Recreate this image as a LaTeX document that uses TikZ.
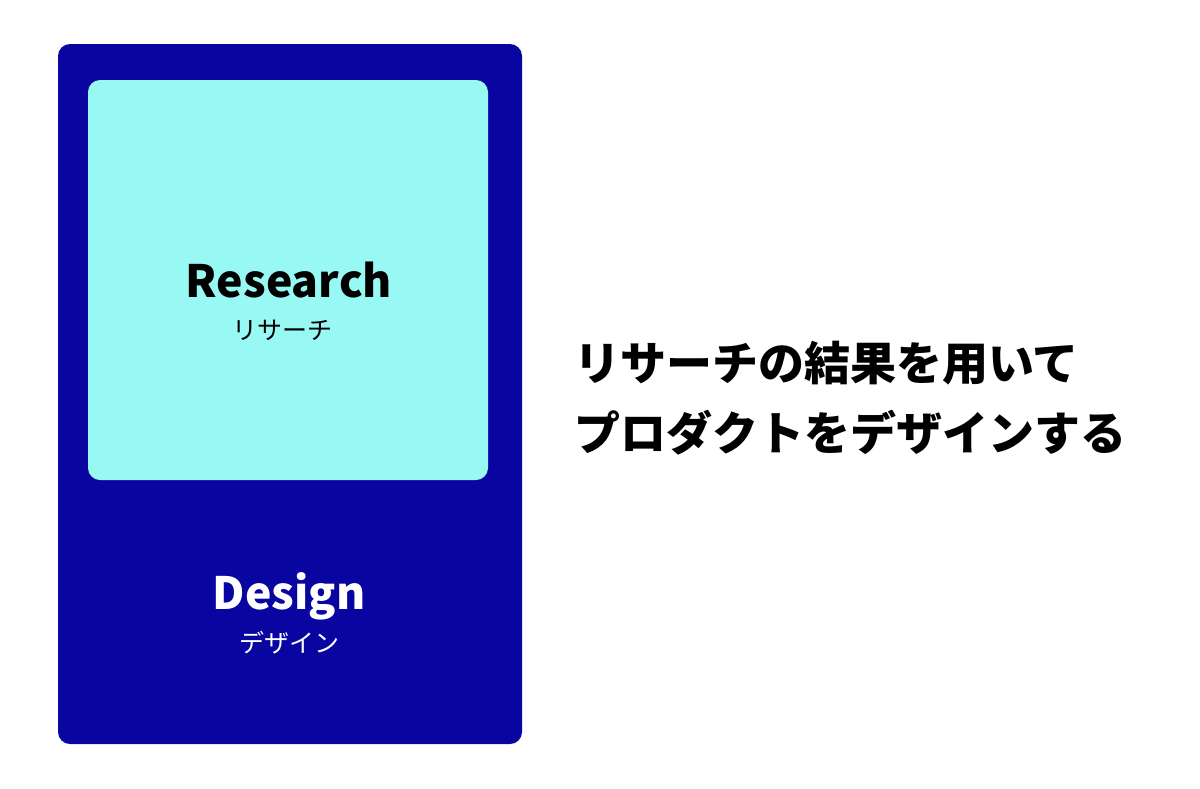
\documentclass[tikz,border=0pt]{standalone}
\usepackage{fontspec}
\setmainfont{Noto Sans CJK JP}
\definecolor{navy}{HTML}{0805A0}
\definecolor{aqua}{HTML}{98F9F4}
\tikzset{
  panel/.style={rounded corners=12pt, fill=navy, draw=none},
  card/.style={rounded corners=12pt, fill=aqua, draw=none},
  title/.style={font=\fontsize{44.5}{50}\selectfont\bfseries, inner sep=0pt, anchor=base},
  sub/.style={font=\fontsize{25}{28}\selectfont, inner sep=0pt, anchor=base},
  heading/.style={font=\fontsize{46}{50}\selectfont\bfseries, inner sep=0pt, anchor=base west}
}
\begin{document}
\begin{tikzpicture}[x=1pt,y=-1pt]
\useasboundingbox[fill=white] (0,0) rectangle (1200,788);
\path[panel] (58,44) rectangle (522,744);
\path[card] (88,80) rectangle (488,480);
\node[title, text=black] (research) at (289,297) {Research};
\node[sub, text=black] (researchjp) at (282,339) {リサーチ};
\node[title, text=white] (design) at (289,609) {Design};
\node[sub, text=white] (designjp) at (289,652) {デザイン};
\node[heading] (line1) at (574,380) {リサーチの結果を用いて};
\node[heading] (line2) at (574,450) {プロダクトをデザインする};
\end{tikzpicture}
\end{document}
